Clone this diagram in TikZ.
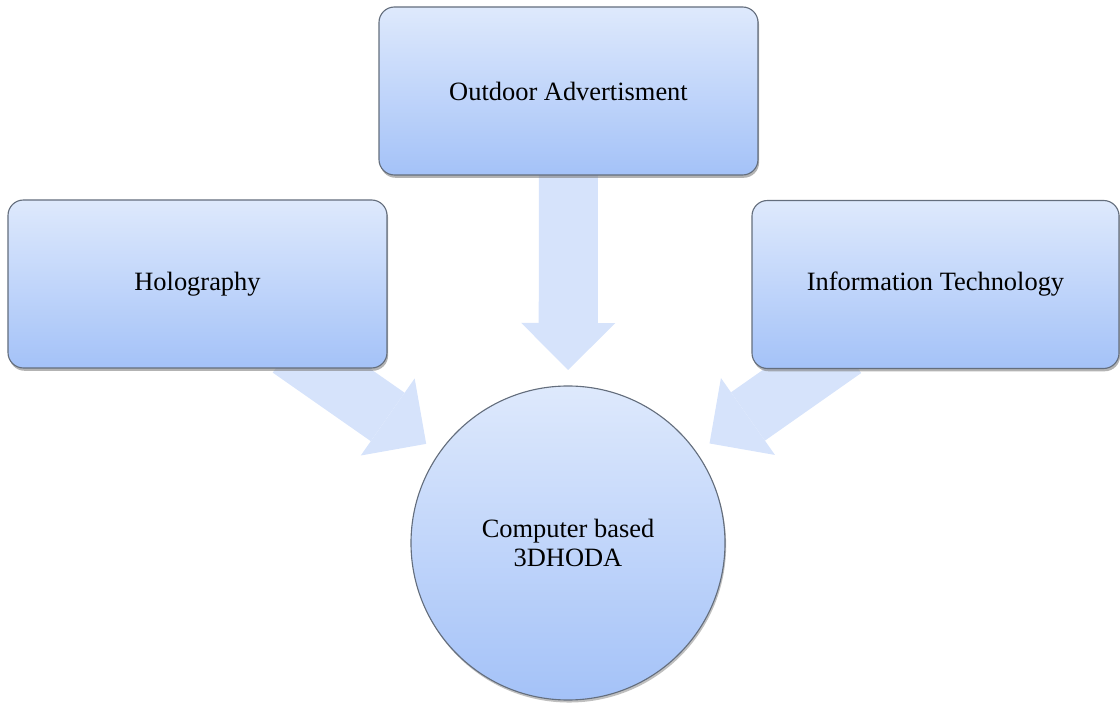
\documentclass[tikz,border=0pt]{standalone}
\usepackage{fontspec}
\setmainfont{Liberation Serif}
\usetikzlibrary{positioning,shadows,backgrounds,arrows.meta}
\definecolor{boxtop}{RGB}{222,233,252}
\definecolor{boxbottom}{RGB}{164,194,248}
\definecolor{boxline}{RGB}{100,110,125}
\definecolor{flowblue}{RGB}{214,227,251}

\begin{document}
\begin{tikzpicture}[
    topic/.style={draw=boxline,line width=0.8pt,rounded corners=11pt,top color=boxtop,bottom color=boxbottom,
        minimum width=9.475cm,minimum height=4.2cm,align=center,font=\fontsize{18.8}{20.5}\selectfont,
        drop shadow={opacity=0.6,shadow xshift=0.8pt,shadow yshift=-2pt}},
    hub/.style={draw=boxline,line width=0.8pt,circle,top color=boxtop,bottom color=boxbottom,
        minimum size=7.85cm,align=center,font=\fontsize{18.8}{20.5}\selectfont,
        drop shadow={opacity=0.5,shadow xshift=0.8pt,shadow yshift=-1.8pt}},
    flow/.style={draw=flowblue,line width=42pt,shorten <=-25pt,shorten >=11pt,
        -{Triangle[width=66.9pt,length=33.4pt,line width=0pt]}}
]
    \useasboundingbox (0,0) rectangle (28,17.55);

    % Outdoor advertisment
    \node[topic] (advert) at (14.2125,15.275) {Outdoor Advertisment};

    % Holography
    \node[topic] (holo) at (4.9375,10.45) {Holography};

    % Information technology
    \node[topic,minimum width=9.175cm] (infotech) at (23.3875,10.4375) {Information Technology};

    % Computer based 3DHODA
    \node[hub] (hoda) at (14.2,3.975) {Computer based\\3DHODA};

    % arrows behind the boxes
    \begin{scope}[on background layer]
        \draw[flow] (advert) -- (hoda);
        \draw[flow] (holo) -- (hoda);
        \draw[flow] (infotech) -- (hoda);
    \end{scope}
\end{tikzpicture}
\end{document}
